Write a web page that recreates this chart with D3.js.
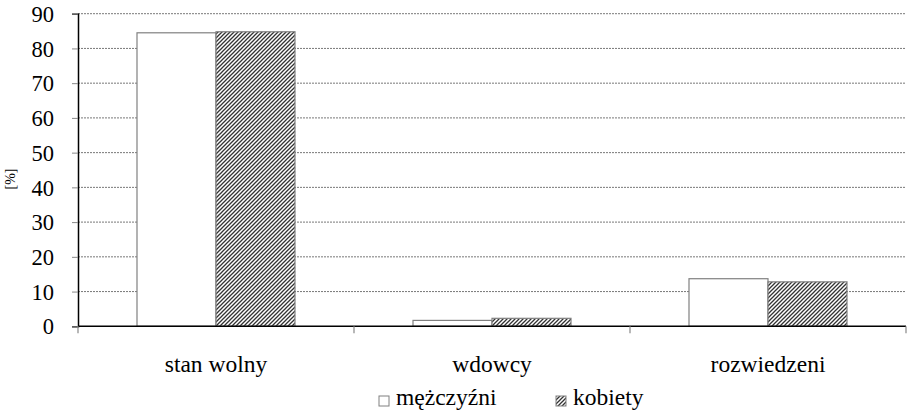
<!DOCTYPE html>
<html><head><meta charset="utf-8">
<script src="https://cdn.jsdelivr.net/npm/d3@7"></script>
</head><body style="margin:0;background:#fff"><svg id="c" width="909" height="419"></svg>
<script>
const categories = ["stan wolny", "wdowcy", "rozwiedzeni"];
const seriesNames = ["mężczyźni", "kobiety"];
const men = [84.5, 1.7, 13.7];
const women = [84.8, 2.3, 12.8];
const yTicks = [0,10,20,30,40,50,60,70,80,90];

const fams = ["Liberation Serif", "Times New Roman"];
const ff = () => fams[0];
const svg = d3.select("#c");
const L = 78, R = 906, T = 13.7, B = 326.3;
const y = d3.scaleLinear().domain([0,90]).range([B,T]);
const x0 = d3.scaleBand().domain(categories).range([L,R]);
const x1 = d3.scaleBand().domain(seriesNames).range([59, 217]);

const defs = svg.append("defs");
const pat = defs.append("pattern").attr("id","hatch").attr("patternUnits","userSpaceOnUse")
  .attr("width",4).attr("height",4);
pat.append("rect").attr("width",4).attr("height",4).attr("fill","#fff");
pat.append("path").attr("d","M-1,1 l2,-2 M0,4 l4,-4 M3,5 l2,-2").attr("stroke","#333").attr("stroke-width",1.3);

// gridlines
svg.append("g").selectAll("line").data(yTicks.filter(d=>d>0)).join("line")
  .attr("x1",L).attr("x2",R).attr("y1",d=>y(d)).attr("y2",d=>y(d))
  .attr("stroke","#555").attr("stroke-width",0.8).attr("stroke-dasharray","2,1");

// bars
const data = categories.map((c,i)=>({c, vals:[{s:seriesNames[0],v:men[i]},{s:seriesNames[1],v:women[i]}]}));
const g = svg.append("g").selectAll("g").data(data).join("g").attr("transform",d=>`translate(${x0(d.c)},0)`);
g.selectAll("rect").data(d=>d.vals).join("rect")
  .attr("x",d=>x1(d.s)).attr("width",x1.bandwidth())
  .attr("y",d=>y(d.v)).attr("height",d=>y(0)-y(d.v))
  .attr("fill",(d,i)=>i===0?"#fff":"url(#hatch)")
  .attr("stroke","#808080").attr("stroke-width",1.2);

// y axis
const ya = svg.append("g").attr("transform",`translate(${L},0)`)
  .call(d3.axisLeft(y).tickValues(yTicks).tickSize(6).tickPadding(18));
ya.attr("font-family",ff).attr("font-size",22.5);
ya.select(".domain").attr("stroke","#000").attr("stroke-width",1.5);
ya.selectAll(".tick line").attr("stroke","#888");
ya.selectAll(".tick text").attr("dy","0.34em").attr("fill","#000").style("font-family",ff);

// x axis
const boundaries = [L, ...categories.map(c=>x0(c)+x0.bandwidth())];
svg.append("line").attr("x1",L).attr("x2",R).attr("y1",B).attr("y2",B).attr("stroke","#000").attr("stroke-width",1.5);
svg.append("g").selectAll("line").data(boundaries).join("line")
  .attr("x1",d=>d).attr("x2",d=>d).attr("y1",B).attr("y2",B+7).attr("stroke","#888").attr("stroke-width",1.2);
svg.append("g").selectAll("text").data(categories).join("text")
  .attr("x",d=>x0(d)+x0.bandwidth()/2).attr("y",372).attr("text-anchor","middle")
  .style("font-family",ff).attr("font-size",23.5).text(d=>d);

// y label
svg.append("text").attr("transform","translate(15,179) rotate(-90)").attr("text-anchor","middle")
  .style("font-family",ff).attr("font-size",14).text("[%]");

// legend
const leg = [{s:seriesNames[0],x:379,f:"#fff"},{s:seriesNames[1],x:556,f:"url(#hatch)"}];
const lg = svg.append("g").selectAll("g").data(leg).join("g");
lg.append("rect").attr("x",d=>d.x).attr("y",396).attr("width",10).attr("height",10)
  .attr("fill",d=>d.f).attr("stroke","#808080").attr("stroke-width",1);
lg.append("text").attr("x",d=>d.x+17).attr("y",405)
  .style("font-family",ff).attr("font-size",23.5).text(d=>d.s);
</script></body></html>
